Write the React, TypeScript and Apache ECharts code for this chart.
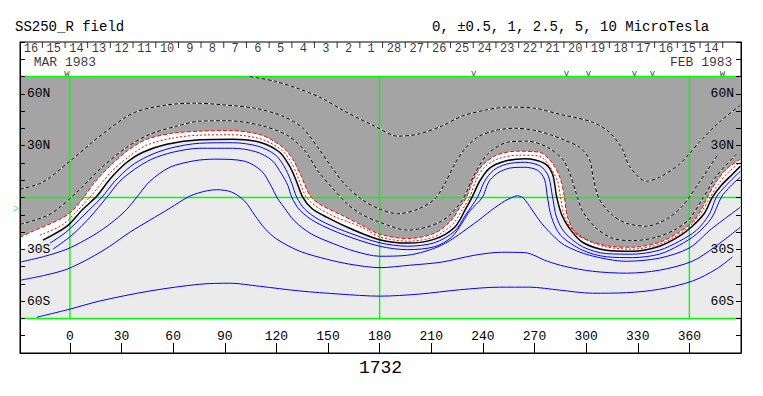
import React, { useEffect, useRef } from 'react';
import * as echarts from 'echarts';

const FONT = '"Liberation Mono", "DejaVu Sans Mono", monospace';

// axis extents (Carrington longitude, latitude)
const lonMin = -29;
const lonMax = 390;
const latMin = -90;
const latMax = 90;
const plotLatRange = [-70, 70];
const greenLons = [0, 180, 360];
const greenLats = [-70, 0, 70];
const lonTicks = [0, 30, 60, 90, 120, 150, 180, 210, 240, 270, 300, 330, 360];
const latLabelValues = [-60, -30, 30, 60];
const latLabelNames = ['60S', '30S', '30N', '60N'];

// header: days of the rotation
const dayLabels = ['16', '15', '14', '13', '12', '11', '10', '9', '8', '7', '6', '5', '4', '3', '2', '1',
  '28', '27', '26', '25', '24', '23', '22', '21', '20', '19', '18', '17', '16', '15', '14'];
const dayCenters = [-22.6, -9.4, 3.8, 16.9, 30.1, 43.3, 56.5, 69.7, 82.8, 96.0, 109.2, 122.4, 135.6, 148.7,
  161.9, 175.1, 188.3, 201.5, 214.6, 227.8, 241.0, 254.2, 267.4, 280.5, 293.7, 306.9, 320.1, 333.3, 346.4,
  359.6, 372.8];
const dayBoundaries = [-16.0, -2.8, 10.3, 23.5, 36.7, 49.9, 63.1, 76.2, 89.4, 102.6, 115.8, 129.0, 142.1,
  155.3, 168.5, 181.7, 194.9, 208.0, 221.2, 234.4, 247.6, 260.8, 273.9, 287.1, 300.3, 313.5, 326.7, 339.8,
  353.0, 366.2, 379.4];
const monthLabels = ['MAR 1983', 'FEB 1983'];
const monthLabelLons = [-21, 385];
const obsMarkLons = [-1.7, 234.6, 288.6, 301.4, 328.1, 338.5, 379.2];
const obsMarkChars = ['w', 'v', 'v', 'v', 'v', 'v', 'w'];
const b0Angle = -6.8;
const rotationNumber = '1732';
const titleText = 'SS250_R field';
const levelsText = '0, \u00B10.5, 1, 2.5, 5, 10 MicroTesla';

// contours [lon, lat]
const neutralLeftEdge = [-29, -31];
const neutralLine = [[-15.7, -24.7], [-1.7, -16.6], [7.5, -6.8], [15.7, 0.8], [23.2, 10.6], [33.1, 20.4],
  [42.4, 26.2], [56.3, 30.8], [75.5, 33.4], [94.6, 33.7], [110.3, 32.0], [121.9, 26.2], [127.7, 18.1],
  [131.2, 10.6], [135.3, 0.2], [140.5, -6.2], [149.2, -11.4], [162.6, -17.8], [180, -24.4], [196.3, -26.4],
  [211.9, -24.1], [223.6, -17.2], [229.9, -6.8], [234.0, 0.8], [238.1, 9.4], [243.9, 17.0], [252.6, 21.0],
  [264.2, 22.5], [275.8, 19.8], [280.5, 13.5], [282.8, 0.8], [285.7, -9.7], [290.3, -17.8], [297.9, -25.9],
  [311.8, -30.5], [326.9, -31.1], [342.6, -28.2], [354.2, -22.4], [361.7, -16.6], [368.7, -9.1], [373.4, 0.2],
  [378.6, 7.1], [385.0, 13.5], [389.6, 18.1]];
const outerRed = [[-29, -23.0], [-21.5, -19.5], [-5.8, -12.6], [1.2, -7.9], [8.1, 0.2], [14.5, 8.9],
  [23.2, 18.1], [33.1, 26.8], [44.7, 33.7], [59.8, 37.2], [75.5, 38.4], [92.9, 38.7], [111.5, 36.1],
  [123.7, 29.1], [129.5, 22.2], [134.7, 11.7], [139.4, 1.3], [145.2, -3.9], [157.9, -10.2], [169.5, -16.0],
  [180, -21.2], [196.3, -23.8], [211.9, -20.7], [221.8, -13.1], [227.0, -5.0], [230.5, 0.2], [234.6, 10.6],
  [239.8, 18.7], [247.9, 24.5], [259.6, 26.8], [272.9, 26.2], [280.5, 19.8], [285.1, 10.6], [287.4, 0.2],
  [289.2, -11.4], [295.0, -21.8], [313.5, -28.2], [326.9, -28.8], [342.6, -25.9], [354.2, -20.0],
  [362.3, -13.7], [367.0, -6.8], [370.5, 0.2], [375.1, 8.3], [381.5, 16.4], [389.6, 22.2]];
const innerRed = [[-17.4, -21.8], [-4.6, -16.0], [4.1, -7.9], [11.6, 0.2], [18.0, 7.7], [24.4, 15.3],
  [33.7, 23.3], [44.7, 30.3], [59.2, 34.3], [75.5, 36.1], [94.1, 36.3], [111.5, 33.7], [123.1, 27.4],
  [128.9, 19.8], [133.0, 10.6], [137.0, 0.8], [142.8, -5.0], [153.3, -10.8], [169.5, -17.2], [180, -22.7],
  [196.3, -25.3], [211.9, -22.7], [222.4, -15.5], [228.2, -6.8], [232.3, 0.2], [236.3, 10.6], [241.5, 18.1],
  [249.7, 22.7], [261.3, 24.5], [272.9, 23.9], [278.7, 18.1], [283.4, 9.4], [285.1, 0.2], [287.4, -10.8],
  [292.6, -19.0], [307.7, -27.6], [326.9, -29.9], [342.6, -27.0], [354.2, -21.2], [361.7, -15.2],
  [366.4, -9.5], [371.6, -0.8], [376.8, 7.7], [382.6, 14.6], [389.6, 20.4]];
const blue1 = [[-11.6, -26.4], [-2.3, -20.1], [8.1, -10.2], [18.6, 0.2], [26.1, 9.4], [35.4, 18.1],
  [45.3, 23.9], [58.1, 28.5], [75.5, 31.4], [94.6, 31.7], [109.2, 29.7], [119.6, 24.5], [125.4, 16.4],
  [128.9, 8.3], [131.8, 0.2], [136.5, -6.8], [145.2, -13.1], [159.7, -19.5], [180, -26.2], [196.3, -28.2],
  [211.9, -26.2], [223.6, -19.5], [229.9, -10.2], [236.9, 0.2], [241.0, 9.4], [246.2, 15.8], [253.7, 19.3],
  [264.2, 20.4], [273.5, 18.1], [278.1, 12.3], [280.5, 0.2], [282.8, -11.4], [287.4, -20.1], [297.9, -28.5],
  [311.8, -32.5], [326.9, -32.8], [342.6, -30.5], [354.2, -25.3], [364.1, -19.0], [371.6, -9.7],
  [375.7, 0.2], [380.9, 6.5], [389.6, 15.2]];
const blue2 = [[-9.9, -29.9], [1.2, -21.8], [11.6, -11.5], [21.5, 0.2], [29.0, 9.4], [37.7, 16.4],
  [47.6, 22.2], [59.8, 26.2], [75.5, 28.5], [94.6, 28.5], [108.0, 26.5], [117.3, 21.6], [123.1, 13.5],
  [126.6, 7.1], [128.9, 0.2], [133.6, -7.3], [142.8, -14.3], [159.7, -21.8], [180, -28.2], [196.3, -30.2],
  [211.9, -28.5], [221.8, -23.0], [228.2, -14.3], [232.3, -7.9], [239.8, 0.2], [243.3, 8.9], [248.5, 14.1],
  [255.5, 17.0], [264.2, 17.5], [271.7, 15.8], [275.8, 10.6], [277.5, 0.2], [279.9, -11.4], [285.1, -21.8],
  [297.9, -30.5], [311.8, -34.3], [326.9, -34.8], [342.6, -32.8], [354.2, -27.6], [364.1, -21.2],
  [372.8, -12.0], [378.6, 0.2], [383.8, 6.5], [389.6, 11.7]];
const blue3 = [[-29, -37.4], [-14.5, -34.0], [-1.7, -29.9], [8.7, -24.7], [17.4, -19.5], [26.1, -13.1],
  [33.1, -6.8], [38.9, 0.2], [46.5, 9.4], [58.1, 17.5], [72.6, 21.3], [84.2, 22.2], [101.6, 21.0],
  [111.5, 15.2], [117.3, 6.0], [120.2, 0.2], [123.1, -3.9], [130.6, -13.7], [140.5, -21.2], [153.9, -27.0],
  [165.5, -31.1], [180, -34.0], [196.3, -33.4], [216.0, -27.6], [235.2, -14.9], [245.0, -7.3], [252.6, -2.1],
  [256.6, -0.1], [260.1, 1.0], [263.6, -0.4], [268.3, -6.8], [274.1, -14.9], [280.5, -21.8], [287.4, -27.6],
  [301.9, -33.4], [323.4, -36.9], [342.6, -35.1], [360.0, -29.2], [372.8, -18.2], [389.6, -5.6]];
const blue4 = [[-29, -47.9], [-14.5, -45.0], [-1.7, -41.5], [11.6, -35.1], [23.2, -28.2], [34.8, -20.1],
  [46.5, -13.1], [58.1, -6.2], [69.7, 0.8], [78.4, 3.6], [85.4, 4.5], [94.1, 3.1], [101.6, -2.1],
  [107.4, -10.2], [113.2, -17.8], [120.2, -24.1], [133.6, -31.1], [149.2, -35.7], [162.6, -38.6],
  [180, -40.6], [197.4, -39.2], [216.0, -37.4], [235.2, -33.4], [250.8, -31.7], [264.2, -31.9],
  [277.5, -36.9], [287.4, -39.8], [303.7, -42.7], [323.4, -43.8], [342.6, -42.1], [361.7, -36.9],
  [374.5, -28.8], [389.6, -17.2]];
const blue5 = [[-19.2, -69.3], [0, -64.6], [17.4, -59.9], [46.5, -54.1], [75.5, -50.2], [92.9, -49.6],
  [110.3, -51.4], [133.6, -54.1], [156.8, -55.9], [180, -57.1], [203.2, -55.9], [226.5, -53.4],
  [249.7, -51.9], [267.1, -51.9], [284.5, -53.6], [303.7, -55.4], [323.4, -55.1], [342.6, -53.1],
  [361.7, -48.4], [375.7, -41.4], [385.0, -34.4]];
const dark1 = [[104.5, 70], [119.0, 67.3], [133.6, 62.7], [146.3, 57.5], [159.7, 49.9], [177.1, 41.3],
  [190.5, 35.5], [202.1, 36.6], [216.0, 41.3], [227.6, 47.0], [241.0, 50.5], [254.3, 52.3], [270.0, 51.7],
  [284.5, 48.2], [303.7, 43.6], [313.5, 37.8], [321.1, 28.0], [325.2, 18.1], [335.0, 9.4], [342.6, 11.7],
  [354.2, 19.3], [365.8, 32.0], [377.4, 43.6], [389.6, 53.4]];
const dark2 = [[-29, 4.8], [-15.7, 8.9], [0, 21.0], [17.4, 35.5], [36.6, 48.8], [55.2, 53.4], [72.6, 54.6],
  [88.3, 53.7], [107.4, 51.7], [123.1, 47.3], [134.7, 40.7], [144.0, 29.1], [152.1, 17.5], [159.7, 7.7],
  [169.5, -1.0], [178.8, -6.2], [190.5, -9.4], [202.1, -6.8], [211.9, -1.0], [217.7, 7.7], [223.6, 19.3],
  [229.4, 28.0], [236.9, 34.9], [246.8, 38.7], [258.4, 40.1], [270.0, 38.9], [279.9, 36.1], [287.4, 33.2],
  [296.1, 29.1], [301.9, 22.2], [304.3, 10.6], [307.7, -1.0], [315.3, -10.2], [323.4, -14.9], [335.0, -16.6],
  [346.6, -12.6], [355.9, -5.0], [365.8, 8.9], [376.3, 24.5]];
const dark3 = [[-29, -15.5], [-11.6, -9.7], [4.1, 3.1], [17.4, 16.4], [33.1, 29.1], [46.5, 36.6],
  [62.1, 41.3], [75.5, 44.2], [91.7, 44.4], [111.5, 41.6], [126.6, 35.8], [136.5, 27.1], [144.0, 15.5],
  [152.1, 6.0], [161.4, -3.9], [169.5, -9.7], [180, -14.3], [196.3, -18.9], [216.0, -13.7], [227.6, -2.1],
  [235.2, 13.5], [242.7, 25.1], [254.3, 32.0], [265.9, 32.6], [277.5, 29.1], [286.3, 22.2], [290.3, 14.6],
  [294.4, 1.9], [297.9, -7.9], [306.0, -17.8], [315.3, -23.6], [326.9, -25.0], [340.8, -23.0],
  [352.4, -18.2], [360.0, -12.4], [367.5, -1.0], [375.7, 12.3], [387.3, 25.1]];

const DARK = '#a4a4a4';
const LIGHT = '#ebebeb';
const GREEN = '#00ff00';
const BLUE = '#0000ff';
const RED = '#ff0000';
const SMOOTH = 0.3;

function lineSeries(data: number[][], color: string, width: number, type: any, smooth = SMOOTH) {
  return {
    type: 'line',
    data,
    showSymbol: false,
    symbol: 'none',
    smooth,
    silent: true,
    lineStyle: { color, width, type },
  };
}

function fillSeries(data: number[][], color: string, smooth = SMOOTH) {
  return {
    type: 'line',
    data,
    showSymbol: false,
    symbol: 'none',
    smooth,
    silent: true,
    lineStyle: { width: 0, opacity: 0 },
    areaStyle: { color, opacity: 1, origin: plotLatRange[0] },
  };
}

export default function App() {
  const ref = useRef<HTMLDivElement>(null);
  useEffect(() => {
    const chart = echarts.init(ref.current!, null, { renderer: 'svg' });
    const series: any[] = [];
    series.push(fillSeries([[lonMin, plotLatRange[1]], [lonMax, plotLatRange[1]]], DARK, 0));
    series.push(fillSeries(outerRed, '#ffffff'));
    series.push(fillSeries([neutralLeftEdge, ...neutralLine], LIGHT));
    greenLons.forEach((lon) => series.push(lineSeries([[lon, plotLatRange[0]], [lon, plotLatRange[1]]], GREEN, 1.4, 'solid', 0)));
    greenLats.forEach((lat) => series.push(lineSeries([[lonMin, lat], [lonMax, lat]], GREEN, 1.4, 'solid', 0)));
    [blue1, blue2, blue3, blue4, blue5].forEach((d) => series.push(lineSeries(d, BLUE, 1, 'solid')));
    [dark1, dark2, dark3].forEach((d) => {
      series.push(lineSeries(d, '#ffffff', 1, 'solid'));
      series.push(lineSeries(d, '#000000', 1, [4, 2]));
    });
    series.push(lineSeries(innerRed, RED, 1, [2, 2]));
    series.push(lineSeries(outerRed, RED, 1, [4, 2]));
    series.push(lineSeries(neutralLine, '#000000', 1.5, 'solid'));

    // header day labels
    series.push({
      type: 'scatter',
      silent: true,
      symbolSize: 0,
      data: dayCenters.map((lon, i) => [lon, 85.7, dayLabels[i]]),
      label: { show: true, position: 'inside', formatter: (p: any) => p.data[2], color: '#000', fontFamily: FONT, fontSize: 12, lineHeight: 9 },
    });
    // day boundary ticks
    series.push({
      type: 'scatter',
      silent: true,
      symbol: 'rect',
      symbolSize: [1, 6],
      itemStyle: { color: '#000' },
      data: dayBoundaries.map((lon) => [lon, 88.3]),
    });
    // month labels
    series.push({
      type: 'scatter',
      silent: true,
      symbolSize: 0,
      data: monthLabelLons.map((lon, i) => ({
        value: [lon, 78.0],
        label: { position: i === 0 ? 'right' : 'left', formatter: monthLabels[i] },
      })),
      label: { show: true, distance: 0, color: '#000', fontFamily: FONT, fontSize: 13, lineHeight: 10 },
    });
    // observation markers
    series.push({
      type: 'scatter',
      silent: true,
      symbolSize: 0,
      data: obsMarkLons.map((lon, i) => [lon, 71.4, obsMarkChars[i]]),
      label: { show: true, position: 'inside', formatter: (p: any) => p.data[2], color: '#000', fontFamily: FONT, fontSize: 9, lineHeight: 7 },
    });
    // B0 marker
    series.push({
      type: 'scatter',
      silent: true,
      clip: false,
      symbolSize: 0,
      data: [[lonMin, b0Angle]],
      label: { show: true, position: 'left', distance: 1, formatter: '>', color: GREEN, fontFamily: FONT, fontSize: 10 },
    });

    const latAxis = (position: 'left' | 'right') => ({
      type: 'value',
      position,
      min: latMin,
      max: latMax,
      interval: 10,
      z: 20,
      axisLine: { show: true, onZero: false, lineStyle: { color: '#000', width: 1 } },
      axisTick: { show: true, inside: true, length: 5, lineStyle: { color: '#000' } },
      axisLabel: {
        show: true,
        inside: true,
        margin: 7,
        customValues: latLabelValues,
        formatter: (v: number) => latLabelNames[latLabelValues.indexOf(v)] || '',
        color: '#000',
        fontFamily: FONT,
        fontSize: 13,
      },
      splitLine: { show: false },
    });

    chart.setOption({
      animation: false,
      backgroundColor: '#fff',
      grid: { left: 20, right: 22, top: 42, bottom: 43, show: true, borderColor: '#000', borderWidth: 1, backgroundColor: '#fff' },
      xAxis: {
        type: 'value',
        min: lonMin,
        max: lonMax,
        position: 'bottom',
        z: 20,
        axisLine: { show: true, onZero: false, lineStyle: { color: '#000', width: 1 } },
        axisTick: { show: true, inside: true, length: 10, customValues: lonTicks, lineStyle: { color: '#000' } },
        axisLabel: { show: true, inside: true, margin: 10, customValues: lonTicks, color: '#000', fontFamily: FONT, fontSize: 13 },
        splitLine: { show: false },
        name: rotationNumber,
        nameLocation: 'middle',
        nameGap: 5,
        nameTextStyle: { color: '#000', fontFamily: FONT, fontSize: 18, verticalAlign: 'top' },
      },
      yAxis: [latAxis('left'), latAxis('right')],
      graphic: [
        { type: 'text', left: 15, top: 20, style: { text: titleText, font: `14px ${FONT}`, fill: '#000' } },
        { type: 'text', left: 432, top: 20, style: { text: levelsText, font: `14px ${FONT}`, fill: '#000' } },
      ],
      series,
    });
    return () => chart.dispose();
  }, []);
  return <div ref={ref} style={{ position: 'fixed', left: 0, top: 0, width: 763, height: 396, background: '#fff' }} />;
}
